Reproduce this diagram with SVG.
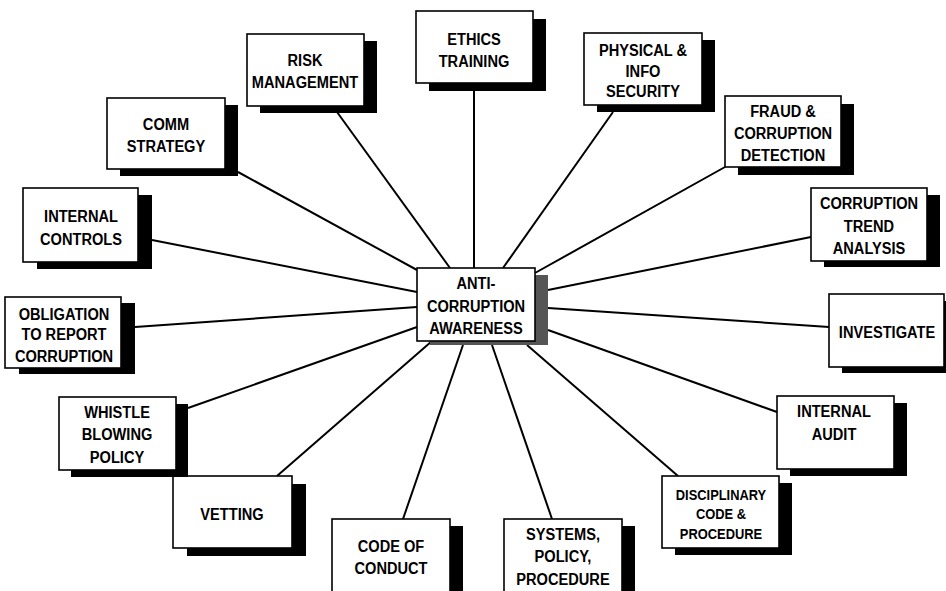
<svg xmlns="http://www.w3.org/2000/svg" width="946" height="591" viewBox="0 0 946 591">
<style>
.bg{fill:#fff}
.box{fill:#fff;stroke:#000;stroke-width:1.6}
.sh{fill:#000}
.shc{fill:#555}
.t{font-family:"Liberation Sans",Arial,sans-serif;font-weight:bold;font-size:17px;text-anchor:middle;fill:#000}
.s{font-size:15px}
.c line{stroke:#000;stroke-width:2}
</style>
<rect class="bg" x="0" y="0" width="946" height="591"/>
<g id="connectors" class="c">
<line x1="238" y1="172" x2="417" y2="270"/>
<line x1="337" y1="112" x2="450" y2="268"/>
<line x1="474" y1="91" x2="474" y2="268"/>
<line x1="613" y1="112" x2="503" y2="268"/>
<line x1="725" y1="167" x2="535" y2="273"/>
<line x1="811" y1="237" x2="548" y2="290"/>
<line x1="829" y1="327" x2="548" y2="308"/>
<line x1="777" y1="412" x2="548" y2="330"/>
<line x1="678" y1="476" x2="527" y2="345"/>
<line x1="552" y1="519" x2="492" y2="345"/>
<line x1="403" y1="519" x2="463" y2="345"/>
<line x1="277" y1="476" x2="432" y2="341"/>
<line x1="188" y1="408" x2="417" y2="327"/>
<line x1="135" y1="327" x2="417" y2="307"/>
<line x1="152" y1="240" x2="417" y2="292"/>
</g>
<g id="n-comm"><rect class="sh" x="120" y="105" width="118" height="71"/><rect class="box" x="107" y="98" width="118" height="71"/>
<text class="t" transform="translate(166,130) scale(0.86,1)"><tspan x="0" y="0">COMM</tspan><tspan x="0" y="22">STRATEGY</tspan></text></g>
<g id="n-risk"><rect class="sh" x="260" y="41" width="117" height="72"/><rect class="box" x="247" y="34" width="117" height="72"/>
<text class="t" transform="translate(305,66) scale(0.86,1)"><tspan x="0" y="0">RISK</tspan><tspan x="0" y="22">MANAGEMENT</tspan></text></g>
<g id="n-ethics"><rect class="sh" x="429" y="19" width="117" height="72"/><rect class="box" x="416" y="11" width="117" height="72"/>
<text class="t" transform="translate(474,45) scale(0.86,1)"><tspan x="0" y="0">ETHICS</tspan><tspan x="0" y="22">TRAINING</tspan></text></g>
<g id="n-physical"><rect class="sh" x="597" y="40" width="118" height="72"/><rect class="box" x="584" y="33" width="118" height="72"/>
<text class="t" transform="translate(643,56) scale(0.86,1)"><tspan x="0" y="0">PHYSICAL &amp;</tspan><tspan x="0" y="21">INFO</tspan><tspan x="0" y="41">SECURITY</tspan></text></g>
<g id="n-fraud"><rect class="sh" x="738" y="104" width="116" height="71"/><rect class="box" x="725" y="96" width="116" height="71"/>
<text class="t" transform="translate(783,117) scale(0.86,1)"><tspan x="0" y="0">FRAUD &amp;</tspan><tspan x="0" y="22">CORRUPTION</tspan><tspan x="0" y="44">DETECTION</tspan></text></g>
<g id="n-trend"><rect class="sh" x="824" y="195" width="116" height="72"/><rect class="box" x="811" y="188" width="116" height="73"/>
<text class="t" transform="translate(869,209) scale(0.86,1)"><tspan x="0" y="0">CORRUPTION</tspan><tspan x="0" y="23">TREND</tspan><tspan x="0" y="45">ANALYSIS</tspan></text></g>
<g id="n-investigate"><rect class="sh" x="842" y="301" width="116" height="72"/><rect class="box" x="829" y="294" width="115" height="73"/>
<text class="t" transform="translate(887,338) scale(0.86,1)"><tspan x="0" y="0">INVESTIGATE</tspan></text></g>
<g id="n-audit"><rect class="sh" x="790" y="403" width="117" height="73"/><rect class="box" x="777" y="396" width="117" height="73"/>
<text class="t" transform="translate(834,417) scale(0.86,1)"><tspan x="0" y="0">INTERNAL</tspan><tspan x="0" y="23">AUDIT</tspan></text></g>
<g id="n-disciplinary"><rect class="sh" x="675" y="483" width="117" height="72"/><rect class="box" x="662" y="476" width="117" height="72"/>
<text class="t s" transform="translate(721,500) scale(0.86,1)"><tspan x="0" y="0">DISCIPLINARY</tspan><tspan x="0" y="19">CODE &amp;</tspan><tspan x="0" y="39">PROCEDURE</tspan></text></g>
<g id="n-systems"><rect class="sh" x="517" y="526" width="118" height="80"/><rect class="box" x="504" y="519" width="118" height="80"/>
<text class="t" transform="translate(563,540) scale(0.86,1)"><tspan x="0" y="0">SYSTEMS,</tspan><tspan x="0" y="22">POLICY,</tspan><tspan x="0" y="45">PROCEDURE</tspan></text></g>
<g id="n-code"><rect class="sh" x="345" y="526" width="118" height="80"/><rect class="box" x="332" y="519" width="118" height="80"/>
<text class="t" transform="translate(391,552) scale(0.86,1)"><tspan x="0" y="0">CODE OF</tspan><tspan x="0" y="22">CONDUCT</tspan></text></g>
<g id="n-vetting"><rect class="sh" x="187" y="484" width="119" height="72"/><rect class="box" x="173" y="476" width="119" height="72"/>
<text class="t" transform="translate(232,520) scale(0.86,1)"><tspan x="0" y="0">VETTING</tspan></text></g>
<g id="n-whistle"><rect class="sh" x="71" y="404" width="117" height="73"/><rect class="box" x="59" y="397" width="117" height="73"/>
<text class="t" transform="translate(117,418) scale(0.86,1)"><tspan x="0" y="0">WHISTLE</tspan><tspan x="0" y="22">BLOWING</tspan><tspan x="0" y="45">POLICY</tspan></text></g>
<g id="n-obligation"><rect class="sh" x="19" y="303" width="116" height="71"/><rect class="box" x="5" y="297" width="116" height="71"/>
<text class="t" transform="translate(64,320) scale(0.86,1)"><tspan x="0" y="0">OBLIGATION</tspan><tspan x="0" y="20">TO REPORT</tspan><tspan x="0" y="42">CORRUPTION</tspan></text></g>
<g id="n-controls"><rect class="sh" x="37" y="195" width="115" height="74"/><rect class="box" x="23" y="188" width="115" height="74"/>
<text class="t" transform="translate(81,222) scale(0.86,1)"><tspan x="0" y="0">INTERNAL</tspan><tspan x="0" y="23">CONTROLS</tspan></text></g>
<g id="n-center"><rect class="shc" x="430" y="275" width="118" height="70"/><rect class="box" x="417" y="268" width="118" height="73"/>
<text class="t" transform="translate(476,289) scale(0.86,1)"><tspan x="0" y="0">ANTI-</tspan><tspan x="0" y="23">CORRUPTION</tspan><tspan x="0" y="45">AWARENESS</tspan></text></g>
</svg>
